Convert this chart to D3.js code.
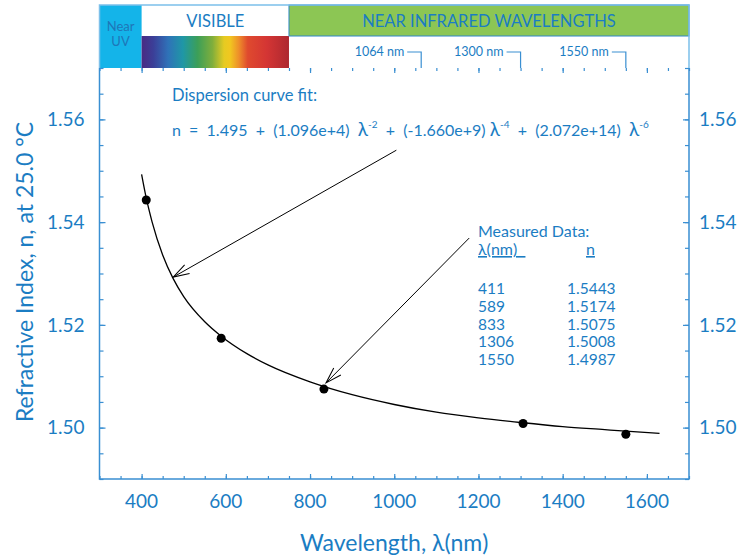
<!DOCTYPE html>
<html>
<head>
<meta charset="utf-8">
<script src="https://cdn.jsdelivr.net/npm/d3@7"></script>
<style>
  body { margin: 0; background: #fff; }
  text { font-family: Lato, "Open Sans", sans-serif; }
</style>
</head>
<body>
<script>
// Chart values
let xDomain = [300, 1700];
let yDomain = [1.49, 1.57];
let xTickLabels = [400, 600, 800, 1000, 1200, 1400, 1600];
let yTickLabels = [1.50, 1.52, 1.54, 1.56];

// measured points
let measuredWavelength = [411, 589, 833, 1306, 1550];
let measuredIndex = [1.5443, 1.5174, 1.5075, 1.5008, 1.4987];

// fitted dispersion curve
let fitWavelength = [400, 411, 425, 450, 475, 500, 550, 589, 650, 700, 800, 900, 1000, 1100, 1200, 1300, 1400, 1500, 1550, 1630];
let fitIndex = [1.5493, 1.5447, 1.5400, 1.5336, 1.5290, 1.5255, 1.5206, 1.5178, 1.5144, 1.5122, 1.5089, 1.5064, 1.5045, 1.5030, 1.5019, 1.5010, 1.5002, 1.4996, 1.4993, 1.4989];

// band across the top
let bandNames = ["Near UV", "VISIBLE", "NEAR INFRARED WAVELENGTHS"];
let bandStart = [300, 400, 750];
let bandEnd = [400, 750, 1700];
let laserLines = [1064, 1300, 1550];

let svgWidth = 753;
let svgHeight = 558;
let margin = { top: 68, right: 64, bottom: 79, left: 99.5 };
let chartWidth = svgWidth - margin.left - margin.right;
let chartHeight = svgHeight - margin.top - margin.bottom;

let blue = "#1b7dc3";
let axisBlue = "#3a8fd2";

let svg = d3.select("body").append("svg")
  .attr("width", svgWidth)
  .attr("height", svgHeight);

let chartGroup = svg.append("g")
  .attr("transform", `translate(${margin.left}, ${margin.top})`);

let xScale = d3.scaleLinear().domain(xDomain).range([0, chartWidth]);
let yScale = d3.scaleLinear().domain(yDomain).range([chartHeight, 0]);

// ---- top band ----
let defs = svg.append("defs");
let grad = defs.append("linearGradient").attr("id", "spectrum");
let spectrumStops = [
  [0, "#4a2a82"], [0.08, "#3b3f98"], [0.18, "#2f72b8"], [0.28, "#1f97a6"],
  [0.38, "#3c9f58"], [0.48, "#7fae3c"], [0.56, "#e6cb22"], [0.6, "#f1c720"],
  [0.66, "#ee8e2a"], [0.72, "#df4a2e"], [0.85, "#d43534"], [1, "#ad2830"]
];
grad.selectAll("stop").data(spectrumStops).enter().append("stop")
  .attr("offset", d => d[0])
  .attr("stop-color", d => d[1]);

let bandTop = -63;
let bandMid = -32;

let band = chartGroup.append("g");
// near UV
band.append("rect")
  .attr("x", xScale(bandStart[0])).attr("y", bandTop)
  .attr("width", xScale(bandEnd[0]) - xScale(bandStart[0]))
  .attr("height", -bandTop)
  .attr("fill", "#14b4e9");
// spectrum
band.append("rect")
  .attr("x", xScale(bandStart[1])).attr("y", bandMid)
  .attr("width", xScale(bandEnd[1]) - xScale(bandStart[1]))
  .attr("height", -bandMid)
  .attr("fill", "url(#spectrum)");
// near IR
band.append("rect")
  .attr("x", xScale(bandStart[2])).attr("y", bandTop)
  .attr("width", xScale(bandEnd[2]) - xScale(bandStart[2]))
  .attr("height", bandMid - bandTop)
  .attr("fill", "#8cc654")
  .attr("stroke", "#2f86c8")
  .attr("stroke-width", 1);
// outer frame
band.append("path")
  .attr("d", `M0,0V${bandTop}H${chartWidth}V0`)
  .attr("fill", "none")
  .attr("stroke", "#7cc0ea")
  .attr("stroke-width", 1.5);

band.append("text")
  .attr("x", (xScale(bandStart[0]) + xScale(bandEnd[0])) / 2)
  .attr("y", -37)
  .attr("text-anchor", "middle")
  .attr("font-size", 13)
  .attr("fill", "#1f76b8")
  .selectAll("tspan").data(bandNames[0].split(" ")).enter().append("tspan")
  .attr("x", (xScale(bandStart[0]) + xScale(bandEnd[0])) / 2)
  .attr("dy", (d, i) => i === 0 ? 0 : 15)
  .text(d => d);

band.append("text")
  .attr("x", (xScale(bandStart[1]) + xScale(bandEnd[1])) / 2)
  .attr("y", -41)
  .attr("text-anchor", "middle")
  .attr("font-size", 16.5)
  .attr("fill", blue)
  .text(bandNames[1]);

band.append("text")
  .attr("x", (xScale(bandStart[2]) + xScale(bandEnd[2])) / 2)
  .attr("y", -41)
  .attr("text-anchor", "middle")
  .attr("font-size", 16.5)
  .attr("fill", blue)
  .text(bandNames[2]);

// laser wavelength callouts
let callout = band.selectAll(".callout").data(laserLines).enter().append("g");
callout.append("path")
  .attr("d", d => `M${xScale(d) - 14},-16H${xScale(d)}V0`)
  .attr("fill", "none")
  .attr("stroke", axisBlue)
  .attr("stroke-width", 1.2);
callout.append("text")
  .attr("x", d => xScale(d) - 17)
  .attr("y", -12)
  .attr("text-anchor", "end")
  .attr("font-size", 12.5)
  .attr("fill", blue)
  .text(d => d + " nm");

// ---- axes ----
function styleAxis(g) {
  g.select(".domain").remove();
  g.selectAll("line").attr("stroke", axisBlue).attr("stroke-width", 1.2);
  g.selectAll("text").remove();
}
let xMinor = d3.range(xDomain[0], xDomain[1] + 1, 50);
let yMinor = d3.range(0, 17).map(i => yDomain[0] + i * 0.005);

chartGroup.append("g").attr("transform", `translate(0, ${chartHeight})`)
  .call(d3.axisBottom(xScale).tickValues(xMinor).tickSize(-3)).call(styleAxis);
chartGroup.append("g").attr("transform", `translate(0, ${chartHeight})`)
  .call(d3.axisBottom(xScale).tickValues(xTickLabels).tickSize(-5)).call(styleAxis);
chartGroup.append("g")
  .call(d3.axisTop(xScale).tickValues(xMinor).tickSize(-3)).call(styleAxis);
chartGroup.append("g")
  .call(d3.axisTop(xScale).tickValues(xTickLabels).tickSize(-5)).call(styleAxis);

chartGroup.append("g")
  .call(d3.axisLeft(yScale).tickValues(yMinor).tickSize(-4)).call(styleAxis);
chartGroup.append("g")
  .call(d3.axisLeft(yScale).tickValues(yTickLabels).tickSize(-6)).call(styleAxis);
chartGroup.append("g").attr("transform", `translate(${chartWidth}, 0)`)
  .call(d3.axisRight(yScale).tickValues(yMinor).tickSize(-4)).call(styleAxis);
chartGroup.append("g").attr("transform", `translate(${chartWidth}, 0)`)
  .call(d3.axisRight(yScale).tickValues(yTickLabels).tickSize(-6)).call(styleAxis);

// plot frame (left, bottom, right)
chartGroup.append("path")
  .attr("d", `M0,0V${chartHeight}H${chartWidth}V0`)
  .attr("fill", "none")
  .attr("stroke", axisBlue)
  .attr("stroke-width", 1.5);

// tick labels
chartGroup.selectAll(".xlab").data(xTickLabels).enter().append("text")
  .attr("x", d => xScale(d))
  .attr("y", chartHeight + 29)
  .attr("text-anchor", "middle")
  .attr("font-size", 19)
  .attr("fill", blue)
  .text(d => d);

chartGroup.selectAll(".ylabL").data(yTickLabels).enter().append("text")
  .attr("x", -15)
  .attr("y", d => yScale(d))
  .attr("dy", "0.36em")
  .attr("text-anchor", "end")
  .attr("font-size", 19)
  .attr("fill", blue)
  .text(d => d.toFixed(2));

chartGroup.selectAll(".ylabR").data(yTickLabels).enter().append("text")
  .attr("x", chartWidth + 10)
  .attr("y", d => yScale(d))
  .attr("dy", "0.36em")
  .attr("font-size", 19)
  .attr("fill", blue)
  .text(d => d.toFixed(2));

// axis titles
svg.append("text")
  .attr("x", margin.left + chartWidth / 2)
  .attr("y", 551)
  .attr("text-anchor", "middle")
  .attr("font-size", 23)
  .attr("fill", blue)
  .text("Wavelength, λ(nm)");

svg.append("text")
  .attr("transform", `translate(33, ${272}) rotate(-90)`)
  .attr("text-anchor", "middle")
  .attr("font-size", 23)
  .attr("fill", blue)
  .text("Refractive Index, n, at 25.0 °C");

// ---- curve and points ----
let fitData = fitWavelength.map((w, i) => ({ w: w, n: fitIndex[i] }));
let line = d3.line()
  .x(d => xScale(d.w))
  .y(d => yScale(d.n))
  .curve(d3.curveMonotoneX);

chartGroup.append("path")
  .datum(fitData)
  .attr("d", line)
  .attr("fill", "none")
  .attr("stroke", "#000")
  .attr("stroke-width", 1.3);

chartGroup.selectAll(".dot").data(measuredWavelength).enter().append("circle")
  .attr("cx", d => xScale(d))
  .attr("cy", (d, i) => yScale(measuredIndex[i]))
  .attr("r", 4.5)
  .attr("fill", "#000");

// ---- arrows ----
defs.append("marker")
  .attr("id", "openhead")
  .attr("markerUnits", "userSpaceOnUse")
  .attr("viewBox", "-18 -7 20 14")
  .attr("markerWidth", 20)
  .attr("markerHeight", 14)
  .attr("refX", 0)
  .attr("refY", 0)
  .attr("orient", "auto")
  .append("path")
  .attr("d", "M-16,-5L0,0L-16,5")
  .attr("fill", "none")
  .attr("stroke", "#000")
  .attr("stroke-width", 1);

let arrows = [
  { from: [1005, 1.5540], to: [475, 1.5293] },
  { from: [1178, 1.5369], to: [838, 1.5087] }
];
chartGroup.selectAll(".arrow").data(arrows).enter().append("line")
  .attr("x1", d => xScale(d.from[0]))
  .attr("y1", d => yScale(d.from[1]))
  .attr("x2", d => xScale(d.to[0]))
  .attr("y2", d => yScale(d.to[1]))
  .attr("stroke", "#000")
  .attr("stroke-width", 1)
  .attr("marker-end", "url(#openhead)");

// ---- annotation text ----
svg.append("text")
  .attr("x", 172).attr("y", 101)
  .attr("font-size", 16.5)
  .attr("fill", blue)
  .text("Dispersion curve fit:");

let eq = svg.append("text")
  .attr("x", 172).attr("y", 136)
  .attr("font-size", 16)
  .attr("fill", blue)
  .attr("xml:space", "preserve");
let eqParts = [
  ["n  =  1.495  +  (1.096e+4)  ", false, 16], ["λ", false, 19], ["-2", true, 10],
  ["  +  (-1.660e+9) ", false, 16], ["λ", false, 19], ["-4", true, 10],
  ["  +  (2.072e+14)  ", false, 16], ["λ", false, 19], ["-6", true, 10]
];
let raised = false;
eqParts.forEach(p => {
  let shift = 0;
  if (p[1] && !raised) shift = -8;
  if (!p[1] && raised) shift = 8;
  raised = p[1];
  eq.append("tspan")
    .attr("font-size", p[2])
    .attr("dy", shift)
    .text(p[0]);
});

// measured data table
let tableX1 = 478, tableX2 = 567;
svg.append("text")
  .attr("x", tableX1).attr("y", 237)
  .attr("font-size", 16).attr("fill", blue)
  .text("Measured Data:");
svg.append("text")
  .attr("x", tableX1).attr("y", 255)
  .attr("font-size", 16).attr("fill", blue)
  .attr("xml:space", "preserve")
  .attr("text-decoration", "underline")
  .text("λ(nm)  ");
svg.append("text")
  .attr("x", 586).attr("y", 255)
  .attr("font-size", 16).attr("fill", blue)
  .attr("text-decoration", "underline")
  .text("n");

measuredWavelength.forEach((w, i) => {
  svg.append("text")
    .attr("x", tableX1).attr("y", 294 + i * 17.8)
    .attr("font-size", 15.5).attr("fill", blue)
    .text(w);
  svg.append("text")
    .attr("x", tableX2).attr("y", 294 + i * 17.8)
    .attr("font-size", 15.5).attr("fill", blue)
    .text(measuredIndex[i].toFixed(4));
});
</script>
</body>
</html>
